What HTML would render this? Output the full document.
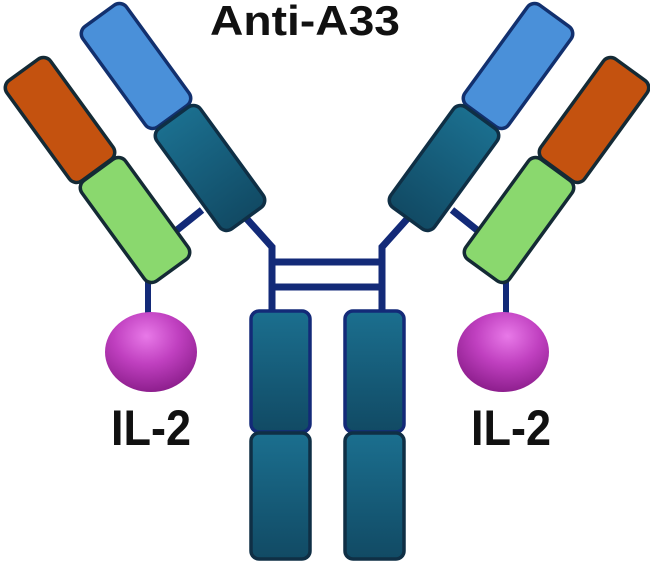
<!DOCTYPE html>
<html><head><meta charset="utf-8"><style>html,body{margin:0;padding:0;background:#fff}svg{display:block}</style></head>
<body>
<svg width="650" height="564" viewBox="0 0 650 564" xmlns="http://www.w3.org/2000/svg">
<defs>
<linearGradient id="teal" x1="0" y1="0" x2="0" y2="1"><stop offset="0" stop-color="#1b6f8f"/><stop offset="1" stop-color="#114a64"/></linearGradient>
<radialGradient id="mag" cx="0.45" cy="0.3" r="0.7"><stop offset="0" stop-color="#e879e8"/><stop offset="0.5" stop-color="#c040c0"/><stop offset="1" stop-color="#8e1f8e"/></radialGradient>
<g id="arm">
  <line x1="177" y1="230" x2="202" y2="210" stroke="#132a78" stroke-width="7"/>
  <polyline points="246,218 272,247 272,310" fill="none" stroke="#132a78" stroke-width="7"/>
  <line x1="148" y1="280" x2="148" y2="314" stroke="#132a78" stroke-width="6"/>
  <g transform="translate(136,66) rotate(-36)"><rect x="-27" y="-62" width="54" height="124" rx="9" fill="#4a90d9" stroke="#12306e" stroke-width="3.5"/></g>
  <g transform="translate(210,168) rotate(-36)"><rect x="-27" y="-62" width="54" height="124" rx="9" fill="url(#teal)" stroke="#0f2f45" stroke-width="3.5"/></g>
  <g transform="translate(60,120) rotate(-36)"><rect x="-27" y="-62" width="54" height="124" rx="9" fill="#c4520f" stroke="#142a35" stroke-width="3.5"/></g>
  <g transform="translate(135,220) rotate(-36)"><rect x="-27" y="-62" width="54" height="124" rx="9" fill="#8ad86e" stroke="#142a35" stroke-width="3.5"/></g>
  <ellipse cx="151" cy="352" rx="46" ry="40" fill="url(#mag)"/>
</g>
</defs>
<use href="#arm"/>
<use href="#arm" transform="translate(654,0) scale(-1,1)"/>
<line x1="272" y1="262" x2="382" y2="262" stroke="#132a78" stroke-width="7"/>
<line x1="272" y1="287" x2="382" y2="287" stroke="#132a78" stroke-width="7"/>
<rect x="251" y="311" width="59" height="121" rx="8" fill="url(#teal)" stroke="#132a78" stroke-width="3.5"/>
<rect x="251" y="433" width="59" height="126" rx="8" fill="url(#teal)" stroke="#0f2f45" stroke-width="3.5"/>
<rect x="345" y="311" width="59" height="121" rx="8" fill="url(#teal)" stroke="#132a78" stroke-width="3.5"/>
<rect x="345" y="433" width="59" height="126" rx="8" fill="url(#teal)" stroke="#0f2f45" stroke-width="3.5"/>
<g font-family="Liberation Sans, sans-serif" font-weight="bold" fill="#111">
<text x="210" y="35" font-size="42" textLength="190" lengthAdjust="spacingAndGlyphs">Anti-A33</text>
<text x="111" y="445" font-size="50" textLength="80" lengthAdjust="spacingAndGlyphs">IL-2</text>
<text x="471" y="445" font-size="50" textLength="80" lengthAdjust="spacingAndGlyphs">IL-2</text>
</g>
</svg>
</body></html>
